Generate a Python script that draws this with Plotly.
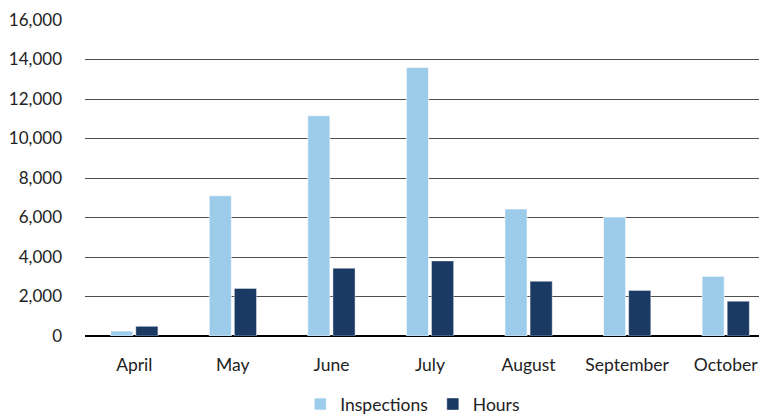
import plotly.graph_objects as go

months = ["April", "May", "June", "July", "August", "September", "October"]
inspections = [250, 7100, 11150, 13600, 6430, 6020, 3020]
hours = [490, 2410, 3430, 3800, 2770, 2310, 1760]
y_ticks = [0, 2000, 4000, 6000, 8000, 10000, 12000, 14000, 16000]

fig = go.Figure()
fig.add_trace(go.Bar(name="Inspections", x=months, y=inspections,
                     marker=dict(color="#9DCBEA", line=dict(color="rgba(255,255,255,0.6)", width=1))))
fig.add_trace(go.Bar(name="Hours", x=months, y=hours,
                     marker=dict(color="#1A3A64", line=dict(color="rgba(255,255,255,0.4)", width=1))))

fig.update_layout(
    width=767, height=417,
    margin=dict(l=77, r=0, t=12, b=89),
    paper_bgcolor="white", plot_bgcolor="white",
    barmode="group", bargap=0.49, bargroupgap=0.12,
    font=dict(family="Lato", size=17, color="#222222"),
    showlegend=True,
    legend=dict(orientation="h", x=0.475, xanchor="center",
                yref="container", y=0.05, yanchor="middle",
                font=dict(size=17.5), itemwidth=30, traceorder="normal"),
)
fig.update_yaxes(range=[0, 16000], tickvals=y_ticks, tickformat=",",
                 tickfont=dict(size=17),
                 showgrid=True, gridcolor="#4f4f4f", gridwidth=1.3,
                 zeroline=True, zerolinecolor="#000000", zerolinewidth=1.5,
                 ticks="", ticklabelstandoff=22, automargin=False, fixedrange=True)
fig.update_xaxes(showgrid=False, ticks="", tickfont=dict(size=17.5),
                 ticklabelstandoff=16, automargin=False)

fig.write_html("out.html")
